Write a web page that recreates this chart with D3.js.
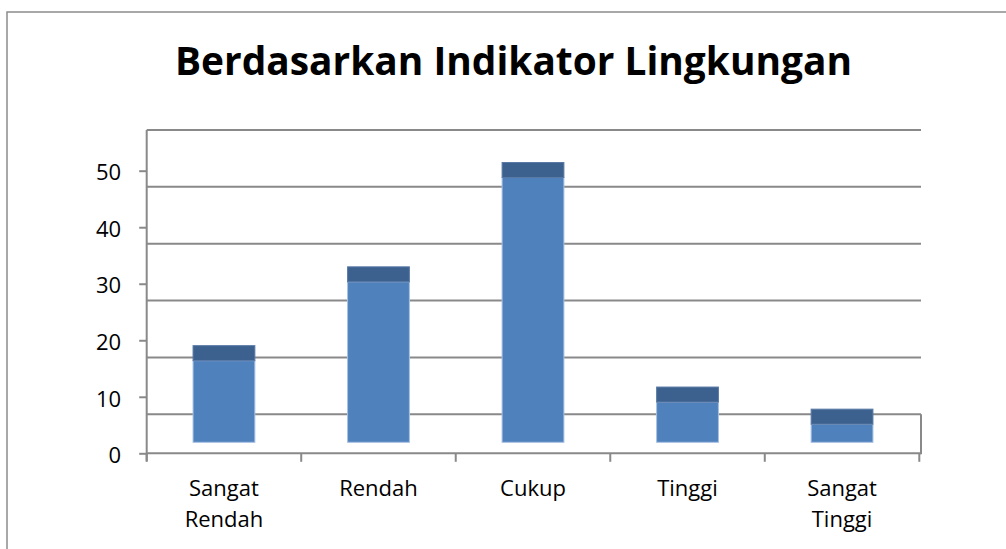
<!DOCTYPE html>
<html>
<head>
<meta charset="utf-8">
<script src="https://cdn.jsdelivr.net/npm/d3@7"></script>
<style>
  html, body { margin: 0; padding: 0; background: #fff; }
  svg { display: block; }
  text { font-family: "Open Sans", "DejaVu Sans", sans-serif; fill: #000; }
</style>
</head>
<body>
<svg id="chart" width="1006" height="549"></svg>
<script>
const title = "Berdasarkan Indikator Lingkungan";
const categories = ["Sangat Rendah", "Rendah", "Cukup", "Tinggi", "Sangat Tinggi"];
const categoryLines = [["Sangat", "Rendah"], ["Rendah"], ["Cukup"], ["Tinggi"], ["Sangat", "Tinggi"]];
const values = [14.4, 28.3, 46.7, 7.1, 3.2];
const yTicks = [0, 10, 20, 30, 40, 50];

const svg = d3.select("#chart");

// outer chart border
svg.append("rect").attr("x", 7).attr("y", 12).attr("width", 1010).attr("height", 560)
  .attr("fill", "none").attr("stroke", "#8c8c8c").attr("stroke-width", 1.5);

// title
const t = svg.append("text").attr("x", 513.5).attr("y", 75).attr("text-anchor", "middle")
  .attr("font-weight", "bold").attr("font-size", 36).text(title);
const w = t.node().getComputedTextLength();
t.attr("font-size", 36 * 677 / w);

const left = 146.7, right = 919.3, wallRight = 921;
const x = d3.scaleBand().domain(categories).range([left, right]).padding(0);
const yFront = d3.scaleLinear().domain([0, 50]).range([453.3, 170.7]);
const yBack = d3.scaleLinear().domain([0, 50]).range([414.3, 130]);
const yBar = d3.scaleLinear().domain([0, 50]).range([442.3, 442.3 - 50 * 5.67]);
const topDepth = 15;
const grey = "#898989";

// back wall gridlines
svg.append("g").selectAll("line").data(yTicks).join("line")
  .attr("x1", left).attr("x2", wallRight)
  .attr("y1", d => yBack(d)).attr("y2", d => yBack(d))
  .attr("stroke", grey).attr("stroke-width", 2);

// right floor edge
svg.append("line").attr("x1", wallRight).attr("x2", wallRight)
  .attr("y1", yBack(0)).attr("y2", yFront(0) + 1)
  .attr("stroke", grey).attr("stroke-width", 2);

// bottom front edge
svg.append("line").attr("x1", left).attr("x2", wallRight)
  .attr("y1", yFront(0)).attr("y2", yFront(0))
  .attr("stroke", grey).attr("stroke-width", 2);

// left value axis line
svg.append("line").attr("x1", left).attr("x2", left)
  .attr("y1", yBack(50)).attr("y2", yFront(0) + 8)
  .attr("stroke", grey).attr("stroke-width", 2);

// value axis ticks and labels
const ya = svg.append("g").attr("transform", `translate(${left},0)`)
  .call(d3.axisLeft(yFront).tickValues(yTicks).tickSize(7.5).tickPadding(18).tickFormat(d3.format("d")));
ya.select(".domain").remove();
ya.selectAll(".tick line").attr("stroke", grey).attr("stroke-width", 2);
ya.selectAll(".tick text").attr("font-size", 22).attr("fill", "#000").attr("dy", "0.42em")
  .attr("font-family", '"Open Sans", sans-serif');

// category boundary ticks
const bounds = categories.map(c => x(c)).concat([x(categories[categories.length - 1]) + x.bandwidth()]);
svg.append("g").selectAll("line").data(bounds).join("line")
  .attr("x1", d => d).attr("x2", d => d)
  .attr("y1", yFront(0)).attr("y2", yFront(0) + 8.5)
  .attr("stroke", grey).attr("stroke-width", 2);

// bars
const bw = x.bandwidth() * 0.4;
const bars = svg.append("g").selectAll("g").data(values).join("g");
bars.append("rect")
  .attr("x", (d, i) => x(categories[i]) + (x.bandwidth() - bw) / 2)
  .attr("width", bw)
  .attr("y", d => yBar(d))
  .attr("height", d => yBar(0) - yBar(d))
  .attr("fill", "#4f81bd").attr("stroke", "#a7c0e2").attr("stroke-width", 1);
bars.append("rect")
  .attr("x", (d, i) => x(categories[i]) + (x.bandwidth() - bw) / 2)
  .attr("width", bw)
  .attr("y", d => yBar(d) - topDepth)
  .attr("height", topDepth)
  .attr("fill", "#3c618e").attr("stroke", "#5a7aa6").attr("stroke-width", 1);

// category labels
const cl = svg.append("g").selectAll("text").data(categoryLines).join("text")
  .attr("text-anchor", "middle").attr("font-size", 22)
  .attr("x", (d, i) => x(categories[i]) + x.bandwidth() / 2)
  .attr("y", 496);
cl.selectAll("tspan").data(d => d).join("tspan")
  .attr("x", function () { return this.parentNode.getAttribute("x"); })
  .attr("dy", (d, i) => i === 0 ? 0 : 30.7)
  .text(d => d);
</script>
</body>
</html>
